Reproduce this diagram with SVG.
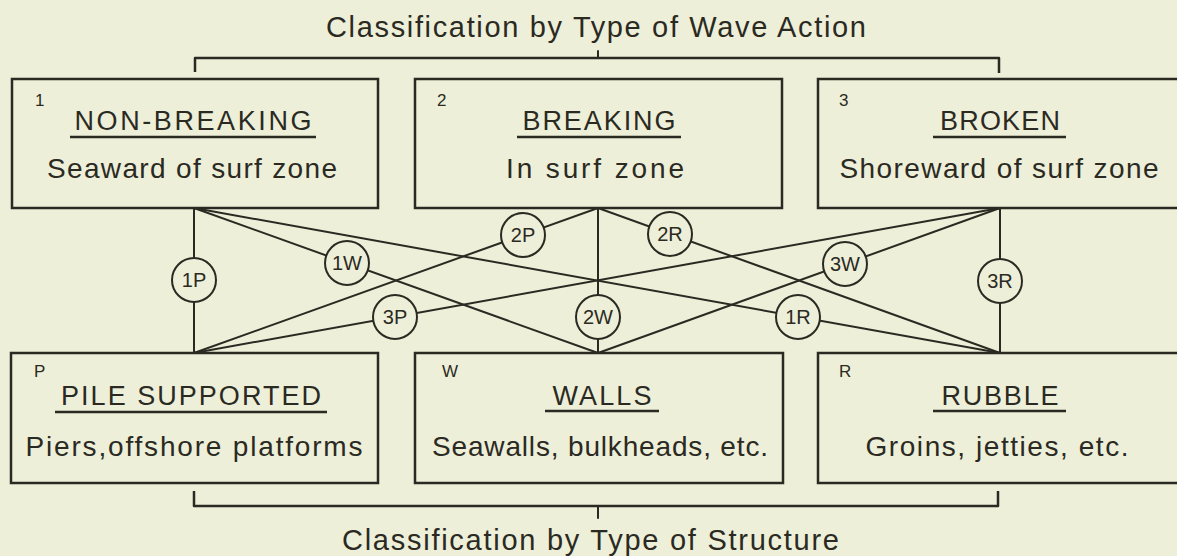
<svg xmlns="http://www.w3.org/2000/svg" width="1177" height="556" viewBox="0 0 1177 556">
<style>
.box{fill:none;stroke:#2b2a22;stroke-width:2.5}
.ln{fill:none;stroke:#2b2a22;stroke-width:2;stroke-linecap:round;stroke-linejoin:round}
.br{fill:none;stroke:#2b2a22;stroke-width:2.5;stroke-linejoin:round}
.ul{stroke:#2b2a22;stroke-width:2.5}
.tx{font-family:"Liberation Sans",Arial,sans-serif;fill:#2b2a22}
.ttl{font-size:29px}
.hd{font-size:27px;text-anchor:middle}
.sub{font-size:28px;text-anchor:middle}
.num{font-size:17px}
.cir{fill:#edefd9;stroke:#2b2a22;stroke-width:2}
.cl{font-size:20px;text-anchor:middle}
</style>
<rect width="1177" height="556" fill="#edefd9"/>

<g id="title-top">
<path class="br" d="M195,72 V58 H999 V73"/>
<path class="ln" d="M598,51 V58"/>
<text class="tx ttl" x="326" y="37" textLength="540" lengthAdjust="spacing">Classification by Type of Wave Action</text>
</g>

<g id="title-bottom">
<path class="br" d="M194,491 V506 H998 V491"/>
<path class="ln" d="M598,506 V518"/>
<text class="tx ttl" x="342" y="550" textLength="497" lengthAdjust="spacing">Classification by Type of Structure</text>
</g>

<g id="connectors">
<line class="ln" x1="194" y1="208" x2="194" y2="353"/>
<line class="ln" x1="194" y1="208" x2="598" y2="353"/>
<line class="ln" x1="194" y1="208" x2="1000" y2="353"/>
<line class="ln" x1="598" y1="208" x2="194" y2="353"/>
<line class="ln" x1="598" y1="208" x2="598" y2="353"/>
<line class="ln" x1="598" y1="208" x2="1000" y2="353"/>
<line class="ln" x1="1000" y1="208" x2="194" y2="353"/>
<line class="ln" x1="1000" y1="208" x2="598" y2="353"/>
<line class="ln" x1="1000" y1="208" x2="1000" y2="353"/>
</g>

<g id="node-1">
<rect class="box" x="12" y="79" width="366" height="129"/>
<text class="tx num" x="35" y="106">1</text>
<text class="tx hd" x="193" y="130" textLength="237" lengthAdjust="spacing">NON-BREAKING</text>
<line class="ul" x1="70" y1="137" x2="316" y2="137"/>
<text class="tx sub" x="192" y="178" textLength="290" lengthAdjust="spacing">Seaward of surf zone</text>
</g>

<g id="node-2">
<rect class="box" x="415" y="79" width="367" height="129"/>
<text class="tx num" x="437" y="106">2</text>
<text class="tx hd" x="599" y="130" textLength="153" lengthAdjust="spacing">BREAKING</text>
<line class="ul" x1="517" y1="137" x2="681" y2="137"/>
<text class="tx sub" x="595" y="178" textLength="178" lengthAdjust="spacing">In surf zone</text>
</g>

<g id="node-3">
<rect class="box" x="818" y="79" width="368" height="129"/>
<text class="tx num" x="839" y="106">3</text>
<text class="tx hd" x="1000" y="130" textLength="120" lengthAdjust="spacing">BROKEN</text>
<line class="ul" x1="933" y1="137" x2="1066" y2="137"/>
<text class="tx sub" x="999" y="178" textLength="319" lengthAdjust="spacing">Shoreward of surf zone</text>
</g>

<g id="node-P">
<rect class="box" x="11" y="353" width="367" height="130"/>
<text class="tx num" x="34" y="377">P</text>
<text class="tx hd" x="191" y="405" textLength="260" lengthAdjust="spacing">PILE SUPPORTED</text>
<line class="ul" x1="55" y1="412" x2="327" y2="412"/>
<text class="tx sub" x="194" y="456" textLength="337" lengthAdjust="spacing">Piers,offshore platforms</text>
</g>

<g id="node-W">
<rect class="box" x="415" y="353" width="368" height="130"/>
<text class="tx num" x="442" y="377">W</text>
<text class="tx hd" x="602" y="405" textLength="99" lengthAdjust="spacing">WALLS</text>
<line class="ul" x1="545" y1="411" x2="659" y2="411"/>
<text class="tx sub" x="600" y="456" textLength="336" lengthAdjust="spacing">Seawalls, bulkheads, etc.</text>
</g>

<g id="node-R">
<rect class="box" x="818" y="353" width="368" height="130"/>
<text class="tx num" x="839" y="377">R</text>
<text class="tx hd" x="1000" y="405" textLength="117" lengthAdjust="spacing">RUBBLE</text>
<line class="ul" x1="933" y1="411" x2="1066" y2="411"/>
<text class="tx sub" x="997" y="456" textLength="263" lengthAdjust="spacing">Groins, jetties, etc.</text>
</g>

<g id="labels">
<g id="c-1P"><circle class="cir" cx="194" cy="280" r="22"/><text class="tx cl" x="194" y="287">1P</text></g>
<g id="c-1W"><circle class="cir" cx="347" cy="263" r="22"/><text class="tx cl" x="347" y="270">1W</text></g>
<g id="c-1R"><circle class="cir" cx="798" cy="317" r="22"/><text class="tx cl" x="798" y="324">1R</text></g>
<g id="c-2P"><circle class="cir" cx="523" cy="235" r="22"/><text class="tx cl" x="523" y="242">2P</text></g>
<g id="c-2W"><circle class="cir" cx="598" cy="317" r="22"/><text class="tx cl" x="598" y="324">2W</text></g>
<g id="c-2R"><circle class="cir" cx="670" cy="234" r="22"/><text class="tx cl" x="670" y="241">2R</text></g>
<g id="c-3P"><circle class="cir" cx="395" cy="317" r="22"/><text class="tx cl" x="395" y="324">3P</text></g>
<g id="c-3W"><circle class="cir" cx="845" cy="264" r="22"/><text class="tx cl" x="845" y="271">3W</text></g>
<g id="c-3R"><circle class="cir" cx="1000" cy="281" r="22"/><text class="tx cl" x="1000" y="288">3R</text></g>
</g>
</svg>
